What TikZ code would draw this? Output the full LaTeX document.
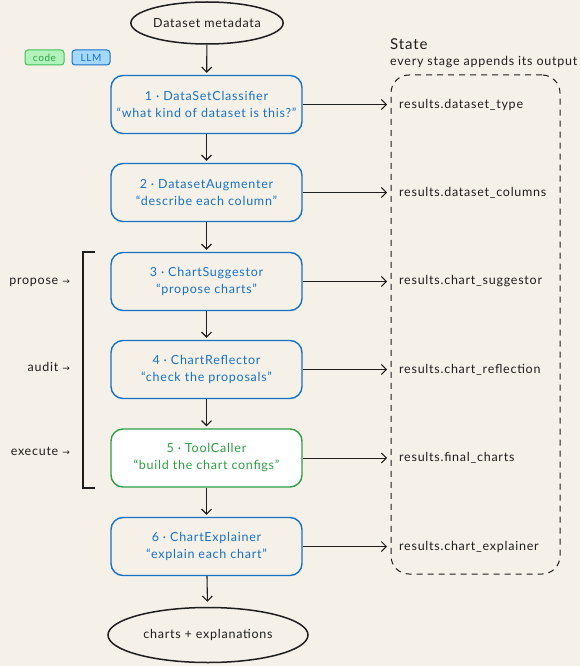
\documentclass[tikz,border=0pt]{standalone}
\usepackage{fontspec}
\setmainfont{Lato}[LetterSpace=6]
\newfontfamily\symf{DejaVu Sans}
\usetikzlibrary{shapes.geometric,arrows.meta}
\definecolor{bg}{HTML}{F5F1E9}
\definecolor{llm}{HTML}{1971C2}
\definecolor{codeg}{HTML}{2F9E44}
\definecolor{ink}{HTML}{1E1E1E}
\definecolor{llmfill}{HTML}{A5D8FF}
\definecolor{codefill}{HTML}{B2F2BB}
\definecolor{codeline}{HTML}{40C057}
\begin{document}
\begin{tikzpicture}[x=1pt,y=-1pt,
  txt/.style={font=\fontsize{12.5}{17}\selectfont},
  stage/.style={txt, draw=llm, line width=1.4pt, rounded corners=12pt,
    minimum width=191pt, minimum height=58pt, text=llm, align=center},
  codestage/.style={stage, draw=codeg, text=codeg, fill=white},
  term/.style={txt, draw=ink, ellipse, line width=1.5pt, text=ink, inner sep=0pt},
  flow/.style={-{Straight Barb[length=5pt,width=10pt]}, line width=1.1pt, draw=ink},
  result/.style={txt, anchor=west, inner sep=0pt, text=ink},
  phase/.style={txt, anchor=east, inner sep=0pt, text=ink},
  pill/.style={font=\fontsize{10}{11}\selectfont, rounded corners=3pt, line width=1pt,
    minimum height=15pt, inner sep=0pt}
]
\useasboundingbox[fill=bg] (0,0) rectangle (580,666);

% terminals
\node[term, minimum width=148pt, minimum height=42pt] (start) at (207,23) {Dataset metadata};
\node[term, minimum width=200pt, minimum height=55pt] (finish) at (208,635) {charts + explanations};

% legend
\node[pill, fill=codefill, draw=codeline, text=codeg, minimum width=39pt] (lcode) at (44.5,57.5) {code};
\node[pill, fill=llmfill, draw=llm, text=llm, minimum width=38pt] (lllm) at (91,57.5) {LLM};

% stages
\node[stage] (s1) at (206.5,104.5) {1 · DataSetClassifier\\``what kind of dataset is this?''};
\node[stage] (s2) at (206.5,192.5) {2 · DatasetAugmenter\\``describe each column''};
\node[stage] (s3) at (206.5,281.5) {3 · ChartSuggestor\\``propose charts''};
\node[stage] (s4) at (206.5,369.5) {4 · ChartReflector\\``check the proposals''};
\node[codestage] (s5) at (206.5,458) {5 · ToolCaller\\``build the chart configs''};
\node[stage] (s6) at (206.5,546.5) {6 · ChartExplainer\\``explain each chart''};

% state panel
\node[draw=ink, dashed, dash pattern=on 6pt off 5pt, line width=1pt, rounded corners=18pt,
  minimum width=169pt, minimum height=499pt] (state) at (475.5,324.5) {};
\node[anchor=west, inner sep=0pt, text=ink, font=\fontsize{15}{17}\selectfont] (stitle) at (390,44) {State};
\node[result] (ssub) at (390,62) {every stage appends its output};

\node[result] (r1) at (399,104.5) {results.dataset\_type};
\node[result] (r2) at (399,192.5) {results.dataset\_columns};
\node[result] (r3) at (399,281.5) {results.chart\_suggestor};
\node[result] (r4) at (399,369.5) {results.chart\_reflection};
\node[result] (r5) at (399,458) {results.final\_charts};
\node[result] (r6) at (399,546.5) {results.chart\_explainer};

% main flow
\draw[flow, shorten >=2pt] (start) -- (s1);
\draw[flow, shorten >=2pt] (s1) -- (s2);
\draw[flow, shorten >=2pt] (s2) -- (s3);
\draw[flow, shorten >=2pt] (s3) -- (s4);
\draw[flow, shorten >=2pt] (s4) -- (s5);
\draw[flow, shorten >=2pt] (s5) -- (s6);
\draw[flow, shorten >=5pt] (s6) -- (finish);

% writes to state
\foreach \i in {1,...,6} {
  \draw[flow, line width=0.9pt, shorten >=12pt] (s\i.east) -- (r\i.west);
}

% bracket and phases
\coordinate (bt) at (95,252);
\coordinate (bb) at (95,488);
\draw[line width=1.5pt, draw=ink] (bt) -- (83,252) -- (83,488) -- (bb);
\node[phase] (p1) at (70,282) {propose {\symf\fontsize{9}{10}\selectfont →}};
\node[phase] (p2) at (70,367) {audit {\symf\fontsize{9}{10}\selectfont →}};
\node[phase] (p3) at (70,451) {execute {\symf\fontsize{9}{10}\selectfont →}};
\end{tikzpicture}
\end{document}
